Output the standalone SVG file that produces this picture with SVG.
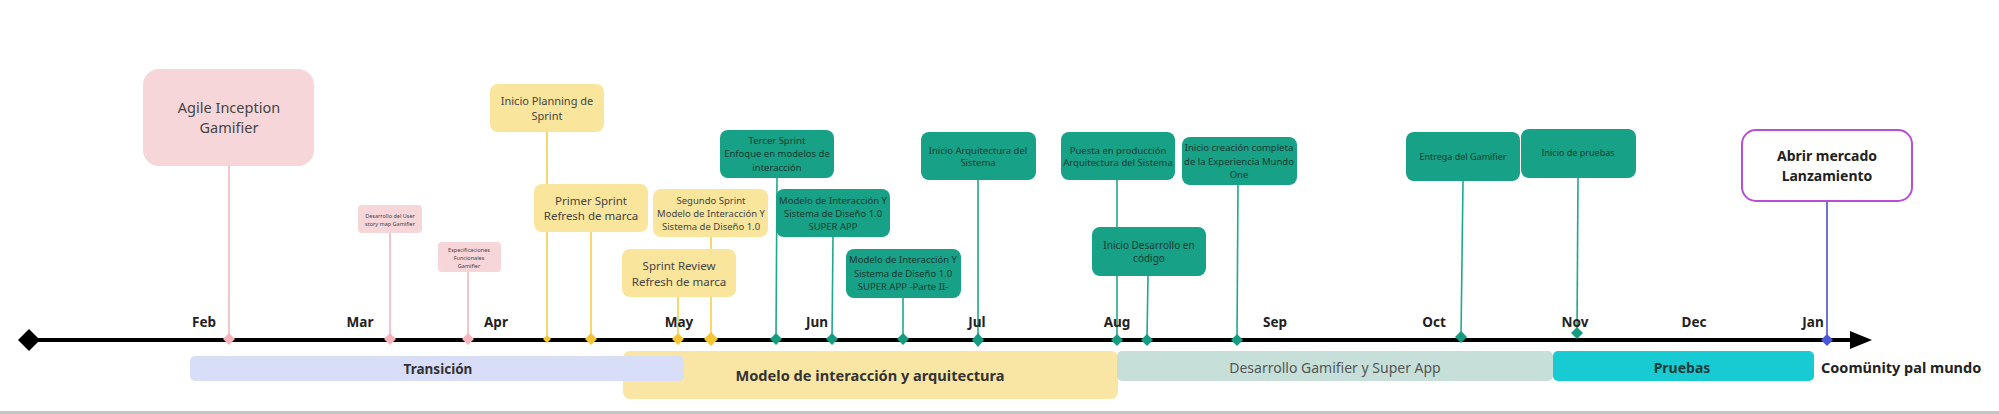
<svg xmlns="http://www.w3.org/2000/svg" width="1999" height="414" viewBox="0 0 1999 414">
<style>
text{font-family:"Noto Sans","Open Sans","DejaVu Sans",sans-serif;text-anchor:middle}
.pink{fill:#f7d6d9}
.yel{fill:#fae59d}
.teal{fill:#17a186}
.month{font-size:13.5px;font-weight:bold;fill:#222}
.tp{fill:#444}
.tt{fill:#17392f}
.cp{stroke:#f4b7bd;stroke-width:1.6}
.cy{stroke:#f4ce4d;stroke-width:1.6}
.ct{stroke:#1fa88b;stroke-width:1.6}
.dp{fill:#f6b5bc}
.dy{fill:#f5c535}
.dt{fill:#159c80}
</style>
<rect x="0" y="0" width="1999" height="414" fill="#ffffff"/>
<rect x="0" y="411" width="1999" height="3" fill="#c4c4c4"/>

<g id="phases">
<rect x="623" y="351" width="495" height="48" rx="7" fill="#fae6a4"/>
<rect x="190" y="356" width="494" height="25" rx="5" fill="#d8ddf8"/>
<rect x="1117" y="351" width="436" height="30" rx="5" fill="#c6e0d9"/>
<rect x="1553" y="351" width="261" height="30" rx="5" fill="#18cbd3"/>
<text x="438" y="374" font-size="13.5" font-weight="bold" fill="#333">Transición</text>
<text x="870" y="381" font-size="14.6" font-weight="bold" fill="#333">Modelo de interacción y arquitectura</text>
<text x="1335" y="373" font-size="14" fill="#555">Desarrollo Gamifier y Super App</text>
<text x="1682" y="373" font-size="14" font-weight="bold" fill="#1d3a3c">Pruebas</text>
<text x="1821" y="373" font-size="14.5" font-weight="bold" fill="#222" style="text-anchor:start">Coomünity pal mundo</text>
</g>

<g id="connectors">
<line class="cp" x1="229" y1="166" x2="229" y2="339"/>
<line class="cp" x1="390" y1="233" x2="390" y2="339"/>
<line class="cp" x1="468" y1="272" x2="468" y2="339"/>
<line class="cy" x1="547" y1="132" x2="547" y2="339"/>
<line class="cy" x1="591" y1="232" x2="591" y2="339"/>
<line class="cy" x1="711" y1="237" x2="711" y2="339"/>
<line class="cy" x1="678" y1="297" x2="678" y2="339"/>
<line class="ct" x1="777" y1="178" x2="776" y2="339"/>
<line class="ct" x1="833" y1="237" x2="832" y2="339"/>
<line class="ct" x1="903" y1="298" x2="903" y2="339"/>
<line class="ct" x1="978" y1="180" x2="978" y2="339"/>
<line class="ct" x1="1117" y1="180" x2="1117" y2="339"/>
<line class="ct" x1="1148" y1="276" x2="1147" y2="339"/>
<line class="ct" x1="1238" y1="185" x2="1237" y2="339"/>
<line class="ct" x1="1463" y1="181" x2="1461" y2="337"/>
<line class="ct" x1="1578" y1="178" x2="1577" y2="333"/>
<line x1="1827" y1="201" x2="1827" y2="340" stroke="#4b50c8" stroke-width="1.6"/>
</g>

<g id="timeline">
<line x1="29" y1="340" x2="1853" y2="340" stroke="#000" stroke-width="4"/>
<polygon points="18,340 29,329 40,340 29,351" fill="#000"/>
<polygon points="1850,331 1872,340 1850,349" fill="#000"/>
<text class="month" x="204" y="327">Feb</text>
<text class="month" x="360" y="327">Mar</text>
<text class="month" x="496" y="327">Apr</text>
<text class="month" x="679" y="327">May</text>
<text class="month" x="817" y="327">Jun</text>
<text class="month" x="977" y="327">Jul</text>
<text class="month" x="1117" y="327">Aug</text>
<text class="month" x="1275" y="327">Sep</text>
<text class="month" x="1434" y="327">Oct</text>
<text class="month" x="1575" y="327">Nov</text>
<text class="month" x="1694" y="327">Dec</text>
<text class="month" x="1813" y="327">Jan</text>
</g>

<g id="markers">
<polygon class="dp" points="229,333 235,339 229,345 223,339"/>
<polygon class="dp" points="390,333 396,339 390,345 384,339"/>
<polygon class="dp" points="468,333 474,339 468,345 462,339"/>
<polygon class="dy" points="547,335 551,339 547,343 543,339"/>
<polygon class="dy" points="591,333 597,339 591,345 585,339"/>
<polygon class="dy" points="678,333 684,339 678,345 672,339"/>
<polygon class="dy" points="711,332 718,339 711,346 704,339"/>
<polygon class="dt" points="776,333 782,339 776,345 770,339"/>
<polygon class="dt" points="832,333 838,339 832,345 826,339"/>
<polygon class="dt" points="903,333 909,339 903,345 897,339"/>
<polygon class="dt" points="978,333 984,340 978,347 972,340"/>
<polygon class="dt" points="1117,334 1123,340 1117,346 1111,340"/>
<polygon class="dt" points="1147,334 1153,340 1147,346 1141,340"/>
<polygon class="dt" points="1237,334 1243,340 1237,346 1231,340"/>
<polygon class="dt" points="1461,331 1467,337 1461,343 1455,337"/>
<polygon class="dt" points="1577,327 1583,333 1577,339 1571,333"/>
<polygon points="1827,334 1833,340 1827,346 1821,340" fill="#4957d8"/>
</g>

<g id="agile-inception">
<rect class="pink" x="143" y="69" width="171" height="97" rx="16"/>
<text class="tp" x="229" y="113" font-size="14.5">Agile Inception</text>
<text class="tp" x="229" y="133" font-size="14.5">Gamifier</text>
</g>
<g id="user-story-map">
<rect class="pink" x="358" y="205" width="64" height="28" rx="4"/>
<text class="tp" x="390" y="218" font-size="5.5">Desarrollo del User</text>
<text class="tp" x="390" y="226" font-size="5.5">story map Gamifier</text>
</g>
<g id="especificaciones">
<rect class="pink" x="438" y="242" width="63" height="30" rx="4"/>
<text class="tp" x="469" y="252" font-size="5.5">Especificaciones</text>
<text class="tp" x="469" y="260" font-size="5.5">Funcionales</text>
<text class="tp" x="469" y="268" font-size="5.5">Gamifier</text>
</g>

<g id="inicio-planning">
<rect class="yel" x="490" y="84" width="114" height="48" rx="8"/>
<text class="tp" x="547" y="105" font-size="11">Inicio Planning de</text>
<text class="tp" x="547" y="120" font-size="11">Sprint</text>
</g>
<g id="primer-sprint">
<rect class="yel" x="534" y="184" width="114" height="48" rx="8"/>
<text class="tp" x="591" y="205" font-size="11.5">Primer Sprint</text>
<text class="tp" x="591" y="220" font-size="11.5">Refresh de marca</text>
</g>
<g id="segundo-sprint">
<rect class="yel" x="653" y="189" width="115" height="48" rx="8"/>
<text class="tp" x="711" y="204" font-size="9.5">Segundo Sprint</text>
<text class="tp" x="711" y="217" font-size="9.5">Modelo de Interacción Y</text>
<text class="tp" x="711" y="230" font-size="9.5">Sistema de Diseño 1.0</text>
</g>
<g id="sprint-review">
<rect class="yel" x="622" y="249" width="114" height="48" rx="8"/>
<text class="tp" x="679" y="270" font-size="11.5">Sprint Review</text>
<text class="tp" x="679" y="286" font-size="11.5">Refresh de marca</text>
</g>

<g id="tercer-sprint">
<rect class="teal" x="720" y="130" width="114" height="48" rx="8"/>
<text class="tt" x="777" y="144" font-size="9.5">Tercer Sprint</text>
<text class="tt" x="777" y="157" font-size="9.5">Enfoque en modelos de</text>
<text class="tt" x="777" y="171" font-size="9.5">interacción</text>
</g>
<g id="modelo-super-app">
<rect class="teal" x="776" y="189" width="114" height="48" rx="8"/>
<text class="tt" x="833" y="204" font-size="9.5">Modelo de Interacción Y</text>
<text class="tt" x="833" y="217" font-size="9.5">Sistema de Diseño 1.0</text>
<text class="tt" x="833" y="230" font-size="9.5">SUPER APP</text>
</g>
<g id="modelo-parte-ii">
<rect class="teal" x="846" y="249" width="115" height="49" rx="8"/>
<text class="tt" x="903" y="263" font-size="9.5">Modelo de Interacción Y</text>
<text class="tt" x="903" y="277" font-size="9.5">Sistema de Diseño 1.0</text>
<text class="tt" x="903" y="290" font-size="9.5">SUPER APP -Parte II-</text>
</g>
<g id="inicio-arquitectura">
<rect class="teal" x="921" y="132" width="115" height="48" rx="8"/>
<text class="tt" x="978" y="154" font-size="9.5">Inicio Arquitectura del</text>
<text class="tt" x="978" y="166" font-size="9.5">Sistema</text>
</g>
<g id="puesta-produccion">
<rect class="teal" x="1061" y="132" width="114" height="48" rx="8"/>
<text class="tt" x="1118" y="154" font-size="9.5">Puesta en producción</text>
<text class="tt" x="1118" y="166" font-size="9.5">Arquitectura del Sistema</text>
</g>
<g id="inicio-desarrollo">
<rect class="teal" x="1092" y="227" width="114" height="49" rx="8"/>
<text class="tt" x="1149" y="249" font-size="10">Inicio Desarrollo en</text>
<text class="tt" x="1149" y="262" font-size="10">código</text>
</g>
<g id="inicio-creacion">
<rect class="teal" x="1182" y="137" width="115" height="48" rx="8"/>
<text class="tt" x="1239" y="151" font-size="9.5">Inicio creación completa</text>
<text class="tt" x="1239" y="165" font-size="9.5">de la Experiencia Mundo</text>
<text class="tt" x="1239" y="178" font-size="9.5">One</text>
</g>
<g id="entrega-gamifier">
<rect class="teal" x="1406" y="132" width="114" height="49" rx="8"/>
<text class="tt" x="1463" y="160" font-size="9">Entrega del Gamifier</text>
</g>
<g id="inicio-pruebas">
<rect class="teal" x="1521" y="129" width="115" height="49" rx="8"/>
<text class="tt" x="1578" y="156" font-size="9">Inicio de pruebas</text>
</g>
<g id="abrir-mercado">
<rect x="1742" y="130" width="170" height="71" rx="14" fill="#fff" stroke="#b54fd4" stroke-width="2"/>
<text x="1827" y="161" font-size="14" font-weight="bold" fill="#222">Abrir mercado</text>
<text x="1827" y="181" font-size="14" font-weight="bold" fill="#222">Lanzamiento</text>
</g>
</svg>
